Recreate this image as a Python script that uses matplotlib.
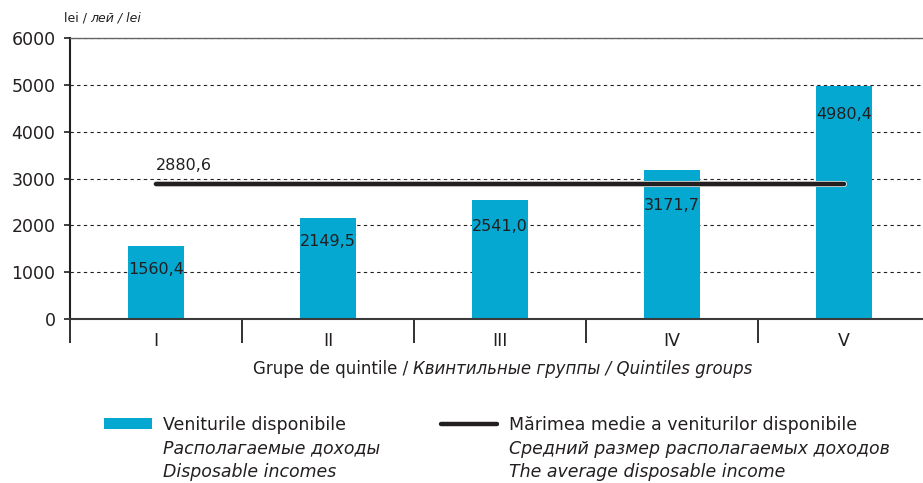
import numpy as np
import matplotlib
matplotlib.use("Agg")
import matplotlib.pyplot as plt
from matplotlib.patches import Patch
from matplotlib.lines import Line2D
from matplotlib.offsetbox import TextArea, HPacker, AnchoredOffsetbox
import matplotlib.patheffects as pe

# ---- data ----
categories = ["I", "II", "III", "IV", "V"]
incomes = [1560.4, 2149.5, 2541.0, 3171.7, 4980.4]
average_income = 2880.6
y_ticks = [0, 1000, 2000, 3000, 4000, 5000, 6000]

legend_bar = ["Veniturile disponibile", "Располагаемые доходы", "Disposable incomes"]
legend_line = ["Mărimea medie a veniturilor disponibile",
               "Средний размер располагаемых доходов",
               "The average disposable income"]
xlabel_parts = ["Grupe de quintile /", "Квинтильные группы / Quintiles groups"]
unit_parts = ["lei /", "лей / lei"]

# label offsets below bar top (points) - styling only
label_offsets = [17, 17, 19, 25, 21]

BAR_C = "#05a8d0"
DARK = "#231f20"

plt.rcParams['font.family'] = ['DejaVu Sans']

fig = plt.figure(figsize=(9.23, 4.83), dpi=100)
ax = fig.add_axes([70 / 923, 164 / 483, 860 / 923, 281 / 483])

x = np.arange(len(categories))
ax.bar(x, incomes, width=0.33, color=BAR_C, zorder=2)

line, = ax.plot([x[0], x[-1]], [average_income, average_income], color=DARK, lw=3.2,
                solid_capstyle='round', zorder=4,
                path_effects=[pe.withStroke(linewidth=4.4, foreground='#e8e8e8')])

def fmt(v):
    return f"{v:.1f}".replace('.', ',')

for xi, v, off in zip(x, incomes, label_offsets):
    ax.annotate(fmt(v), xy=(xi, v), xytext=(0, -off), textcoords='offset points',
                ha='center', va='center', fontsize=11.5, color=DARK, zorder=5)

ax.annotate(fmt(average_income), xy=(x[0], average_income), xytext=(0, 13.5),
            textcoords='offset points', ha='left', va='center', fontsize=11.5, color=DARK)

ax.set_xlim(-0.5, len(categories) - 0.5)
ax.set_ylim(y_ticks[0], y_ticks[-1])
ax.set_yticks(y_ticks)
ax.set_xticks(x, categories)
ax.set_xticks(np.arange(-0.5, len(categories), 1), minor=True)
ax.tick_params(axis='x', which='major', length=0, pad=9.5, labelsize=12.5, labelcolor=DARK)
ax.tick_params(axis='x', which='minor', length=17.5, width=1.3, direction='out', color=DARK)
ax.tick_params(axis='y', length=4.5, width=1.2, labelsize=12.5, pad=6, color=DARK, labelcolor=DARK)

ax.yaxis.grid(True, linestyle=(0, (3, 3)), color=DARK, lw=0.8)
ax.set_axisbelow(True)

ax.spines['right'].set_visible(False)
ax.spines['top'].set_color('#666666')
ax.spines['top'].set_linewidth(1.0)
ax.spines['left'].set_color(DARK)
ax.spines['left'].set_linewidth(1.5)
ax.spines['bottom'].set_color('#3a3a3a')
ax.spines['bottom'].set_linewidth(1.5)

# mixed-style texts
def mixed(parts, size, xy, loc, sep):
    children = [TextArea(parts[0], textprops=dict(fontsize=size, color=DARK)),
                TextArea(parts[1], textprops=dict(fontsize=size, color=DARK, fontstyle='italic'))]
    box = HPacker(children=children, sep=sep, pad=0, align='baseline')
    ab = AnchoredOffsetbox(loc=loc, child=box, bbox_to_anchor=xy,
                           bbox_transform=fig.transFigure, frameon=False, pad=0, borderpad=0)
    fig.add_artist(ab)

mixed(xlabel_parts, 12, (503 / 923, 1 - 369 / 483), 'center', 3.5)
mixed(unit_parts, 9, (64 / 923, 1 - 18 / 483), 'center left', 2.5)

# legends
blank = Patch(facecolor='none', edgecolor='none')
h1 = [Patch(facecolor=BAR_C, edgecolor='none'), blank, blank]
h2 = [Line2D([], [], color=DARK, lw=3.2, solid_capstyle='round'), blank, blank]
fs = 12.5
fpx = fs * 100 / 72
common = dict(loc='upper left', frameon=False, borderpad=0, borderaxespad=0, fontsize=fs,
              handleheight=0.6, labelspacing=0.32)
leg1 = fig.legend(h1, legend_bar, bbox_to_anchor=(104 / 923, 1 - 416 / 483),
                  handlelength=48 / fpx, handletextpad=11 / fpx, **common)
leg2 = fig.legend(h2, legend_line, bbox_to_anchor=(441 / 923, 1 - 416 / 483),
                  handlelength=56 / fpx, handletextpad=12 / fpx, **common)
for leg in (leg1, leg2):
    for i, t in enumerate(leg.get_texts()):
        t.set_color(DARK)
        if i > 0:
            t.set_fontstyle('italic')

fig.savefig("out.png", dpi=100)
